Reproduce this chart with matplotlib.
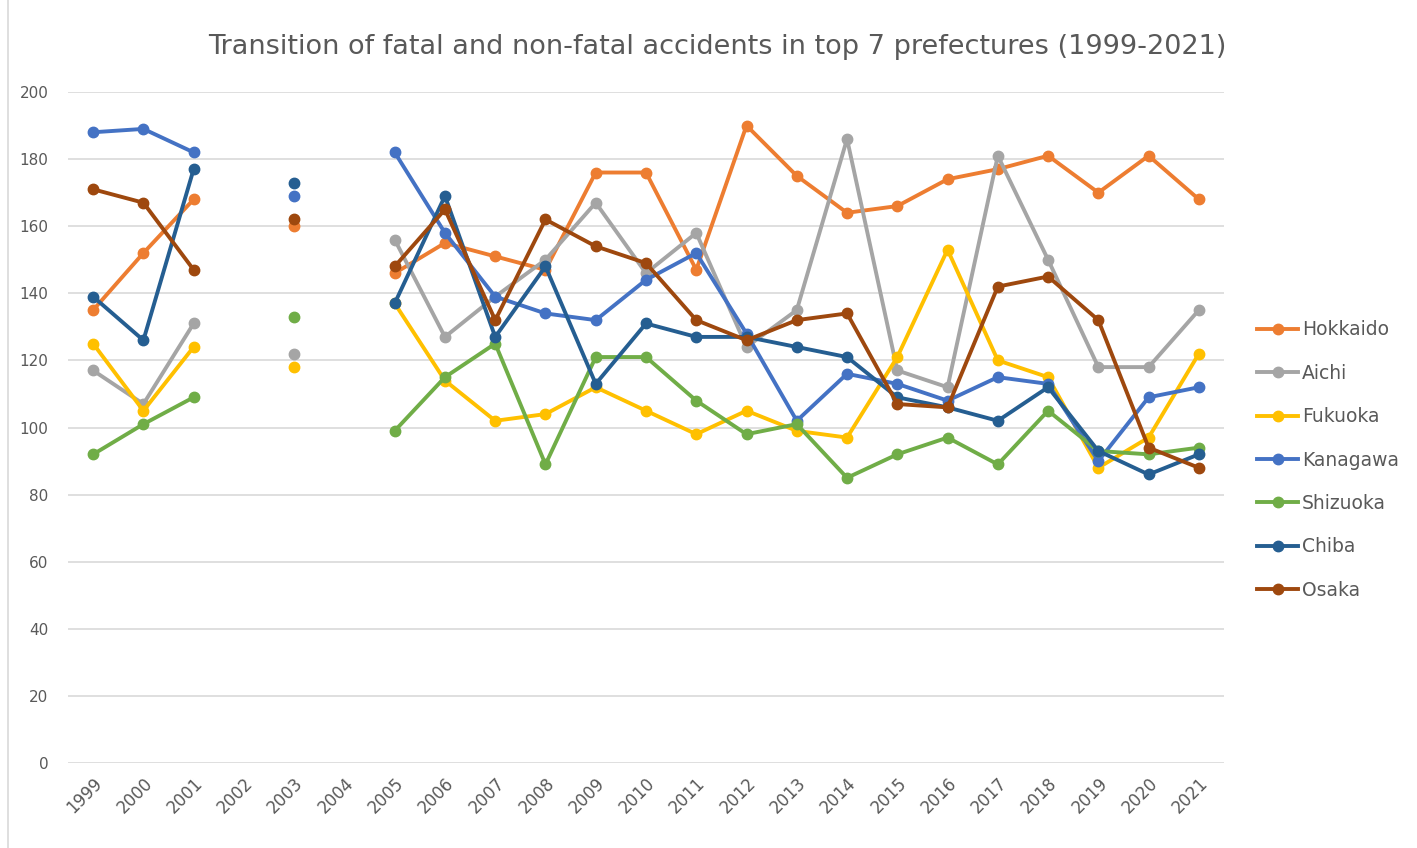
import numpy as np
import matplotlib
matplotlib.use("Agg")
import matplotlib.pyplot as plt

nan = np.nan

years = [str(y) for y in range(1999, 2022)]

# accidents per prefecture, 2002 and 2004 missing
hokkaido = [135, 152, 168, nan, 160, nan, 146, 155, 151, 147, 176, 176, 147, 190, 175, 164, 166, 174, 177, 181, 170, 181, 168]
aichi = [117, 107, 131, nan, 122, nan, 156, 127, 139, 150, 167, 146, 158, 124, 135, 186, 117, 112, 181, 150, 118, 118, 135]
fukuoka = [125, 105, 124, nan, 118, nan, 137, 114, 102, 104, 112, 105, 98, 105, 99, 97, 121, 153, 120, 115, 88, 97, 122]
kanagawa = [188, 189, 182, nan, 169, nan, 182, 158, 139, 134, 132, 144, 152, 128, 102, 116, 113, 108, 115, 113, 90, 109, 112]
shizuoka = [92, 101, 109, nan, 133, nan, 99, 115, 125, 89, 121, 121, 108, 98, 101, 85, 92, 97, 89, 105, 93, 92, 94]
chiba = [139, 126, 177, nan, 173, nan, 137, 169, 127, 148, 113, 131, 127, 127, 124, 121, 109, 106, 102, 112, 93, 86, 92]
osaka = [171, 167, 147, nan, 162, nan, 148, 165, 132, 162, 154, 149, 132, 126, 132, 134, 107, 106, 142, 145, 132, 94, 88]

series = [
    ("Hokkaido", hokkaido, "#ED7D31"),
    ("Aichi", aichi, "#A5A5A5"),
    ("Fukuoka", fukuoka, "#FFC000"),
    ("Kanagawa", kanagawa, "#4472C4"),
    ("Shizuoka", shizuoka, "#70AD47"),
    ("Chiba", chiba, "#255E91"),
    ("Osaka", osaka, "#9E480E"),
]

fig = plt.figure(figsize=(14.17, 8.48), dpi=100)
ax = fig.add_axes([68 / 1417, 85 / 848, (1224 - 68) / 1417, (763 - 92) / 848])

x = np.arange(len(years))
for name, vals, col in series:
    ax.plot(x, vals, color=col, lw=2.8, marker="o", ms=7.5, label=name)

ax.set_xlim(-0.5, len(years) - 0.5)
ax.set_ylim(0, 200)
ax.set_yticks(range(0, 201, 20))
ax.set_xticks(x)
ax.set_xticklabels(years, rotation=45, ha="right", rotation_mode="anchor")
ax.tick_params(axis="both", length=0, labelsize=11, colors="#595959")
ax.tick_params(axis="x", pad=8, labelsize=12)
ax.tick_params(axis="y", pad=14)
ax.grid(axis="y", color="#D9D9D9", lw=1.2)
ax.set_axisbelow(True)
for s in ax.spines.values():
    s.set_visible(False)

fig.text(717 / 1417, 0.945, "Transition of fatal and non-fatal accidents in top 7 prefectures (1999-2021)",
         ha="center", va="center", fontsize=19.5, color="#595959")

fig.legend(loc="center left", bbox_to_anchor=(1240 / 1417, 1 - 460 / 848), frameon=False,
           fontsize=13.5, labelspacing=1.3, handlelength=2.2, handletextpad=0.2,
           labelcolor="#595959")

# left border of chart area
fig.add_artist(plt.Line2D([8 / 1417, 8 / 1417], [0, 1], color="#D9D9D9", lw=1.2))

fig.savefig("out.png", dpi=100)
